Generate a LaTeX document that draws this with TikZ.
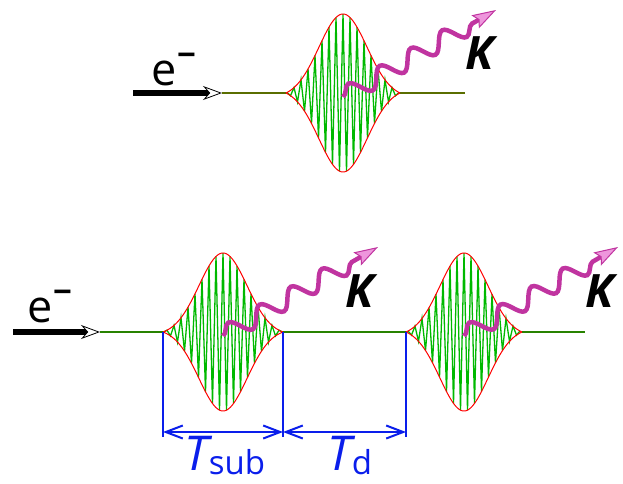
\documentclass[tikz,border=0pt]{standalone}
\usepackage{fontspec}
\setmainfont{Open Sans}
\usetikzlibrary{arrows.meta,decorations.pathmorphing,positioning,calc}
\definecolor{photonmag}{RGB}{192,52,160}
\definecolor{photonpink}{RGB}{238,150,220}
\definecolor{packetgreen}{RGB}{0,185,0}
\definecolor{baseolive}{RGB}{90,110,0}
\definecolor{basegreen}{RGB}{40,130,0}
\definecolor{dimblue}{RGB}{10,30,235}
\tikzset{
beam/.style={
  line width=6pt,
  -{Stealth[open, fill=white, line width=0.8pt, length=19pt, width=14pt]}},
baseline/.style={draw=baseolive, line width=1.3pt},
envelope/.style={red, line width=1pt},
carrier/.style={packetgreen, line width=1.3pt, line join=miter},
photon/.style={
  photonmag,
  line width=4.5pt,
  decorate,
  decoration={snake, segment length=36pt, amplitude=9pt, post length=22pt},
  -{Stealth[length=24pt, width=15pt, fill=photonpink, line width=1pt, inset=4pt]}},
dimline/.style={dimblue, line width=2pt},
dimarrow/.style={dimblue, line width=2pt,
  {Straight Barb[length=17pt, width=13pt]}-{Straight Barb[length=17pt, width=13pt]}},
elabel/.style={anchor=base, inner sep=0pt, font=\fontsize{45}{45}\selectfont},
klabel/.style={anchor=base, inner sep=0pt, font=\fontsize{46}{46}\selectfont\bfseries\itshape},
tlabel/.style={anchor=base, inner sep=0pt, text=dimblue, font=\fontsize{48}{48}\selectfont}
}

\begin{document}
\begin{tikzpicture}[x=1pt, y=-1pt,
  declare function={env(\x,\h)=79*(exp(-(\x)^2/1152)-exp(-(\h)^2/1152))/(1-exp(-(\h)^2/1152));}]
    \useasboundingbox (0,0) rectangle (623,483);
    % single bunch
    \coordinate (beamA) at (133,93);
    \coordinate (entryA) at (222,93);
    \coordinate (headA) at (286,93);
    \coordinate (tailA) at (400,93);
    \coordinate (exitA) at (465,93);
    \coordinate (srcA) at (343,97);
    \coordinate (tipA) at (496,10);
    % train of two sub-bunches
    \coordinate (beamB) at (13,332);
    \coordinate (entryB) at (100,332);
    \coordinate (exitB) at (585,332);
    \coordinate (srcB) at (223,336);
    \coordinate (tipB) at (378,247);
    \coordinate (srcC) at (464,336);
    \coordinate (tipC) at (618,247);
    % time marks
    \coordinate (dimA) at (163,332);
    \coordinate (dimB) at (283,332);
    \coordinate (dimC) at (406,332);
    \coordinate (dimD) at (522,332);
    \coordinate (lowA) at (163,437);
    \coordinate (lowB) at (283,437);
    \coordinate (lowC) at (406,437);
    \coordinate (midA) at (163,432);
    \coordinate (midB) at (283,432);
    \coordinate (midC) at (406,432);
    \path [baseline] (entryA) -- (headA) (tailA) -- (exitA);
    \path [baseline, draw=basegreen] (entryB) -- (dimA) (dimB) -- (dimC) (dimD) -- (exitB);
    \foreach \cx/\cy/\hw/\zw/\n in {343/93/57/56/33, 223/332/60/59.5/35, 464/332/58/56/33} {
      \draw[carrier] plot[domain=-\zw:\zw, samples=\n] ({\cx+\x}, {\cy-env(\x,\hw)*cos((360/7)*\x)});
      \draw[envelope] plot[domain=-\hw:\hw, samples=90] ({\cx+\x}, {\cy-env(\x,\hw)});
      \draw[envelope] plot[domain=-\hw:\hw, samples=90] ({\cx+\x}, {\cy+env(\x,\hw)});
    }
    \draw[beam] (beamA) -- (entryA);
    \draw[beam] (beamB) -- (entryB);
    \draw[photon] (srcA) -- (tipA);
    \draw[photon] (srcB) -- (tipB);
    \draw[photon] (srcC) -- (tipC);
    \node[elabel] (eA) at (174,85) {e\raisebox{19pt}{\fontsize{33}{33}\selectfont\bfseries −}};
    \node[elabel] (eB) at (50,322) {e\raisebox{19pt}{\fontsize{33}{33}\selectfont\bfseries −}};
    \node[klabel] (kA) at (480,69) {K};
    \node[klabel] (kB) at (360,307) {K};
    \node[klabel] (kC) at (600,307) {K};
    \draw[dimline] (dimA) -- (lowA);
    \draw[dimline] (dimB) -- (lowB);
    \draw[dimline] (dimC) -- (lowC);
    \draw[dimarrow] (midA) -- (midB);
    \draw[dimarrow] (midB) -- (midC);
    \node[tlabel] (tsub) at (225,470) {\itshape T\upshape\raisebox{-4pt}{\fontsize{33}{33}\selectfont sub}};
    \node[tlabel] (td) at (350,470) {\itshape T\upshape\raisebox{-4pt}{\fontsize{33}{33}\selectfont d}};
\end{tikzpicture}
\end{document}
